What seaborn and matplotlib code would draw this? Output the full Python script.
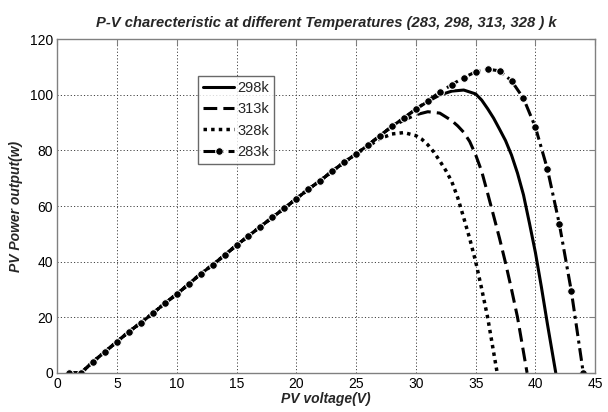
import matplotlib
matplotlib.use("Agg")
import matplotlib.pyplot as plt
import seaborn as sns
import pandas as pd

# ---- data ----
V283 = list(range(1, 45))
P283 = [0, 0, 4.0, 7.6, 11.2, 14.8, 18.0, 21.4, 25.0, 28.3, 31.9, 35.6, 38.8, 42.3,
        45.9, 49.2, 52.6, 55.9, 59.2, 62.6, 66.0, 69.1, 72.5, 75.7, 78.7, 81.9, 85.3,
        88.6, 91.7, 94.8, 97.9, 100.9, 103.6, 106.2, 108.2, 109.2, 108.6, 105.0, 98.7,
        88.3, 73.3, 53.5, 29.4, 0.0]

V298 = list(range(1, 31)) + [31, 32, 33, 34, 35, 35.5, 36, 36.5, 37, 37.5, 38, 38.5, 39, 39.5, 40, 40.5, 41, 41.7]
P298 = P283[:30] + [97.6, 99.9, 101.3, 101.7, 100.3, 98.1, 95.0, 91.6, 87.6, 83.5,
                    78.3, 71.8, 64.0, 53.8, 43.2, 30.8, 17.6, 0.0]

V313 = list(range(1, 29)) + [29, 30, 31, 32, 33, 33.5, 34, 34.5, 35, 35.5, 36, 36.5, 37, 37.5, 38, 38.5, 39, 39.3]
P313 = P283[:28] + [90.8, 92.8, 93.9, 93.4, 90.7, 88.8, 86.5, 83.2, 78.4, 72.5,
                    64.6, 56.5, 48.3, 39.5, 30.0, 20.0, 7.5, 0.0]

V328 = list(range(1, 26)) + [26, 27, 28, 29, 30, 30.5, 31, 31.5, 32, 32.5, 33, 33.5, 34, 34.5, 35, 35.5, 36, 36.8]
P328 = P283[:25] + [81.5, 84.2, 85.9, 86.4, 85.3, 84.0, 82.0, 79.4, 76.2, 72.8,
                    68.8, 63.0, 55.8, 48.3, 40.0, 30.3, 20.0, 0.0]

labels = ["298k", "313k", "328k", "283k"]
x_ticks = [0, 5, 10, 15, 20, 25, 30, 35, 40, 45]
y_ticks = [0, 20, 40, 60, 80, 100, 120]

title = "P-V charecteristic at different Temperatures (283, 298, 313, 328 ) k"
xlabel = "PV voltage(V)"
ylabel = "PV Power output(w)"

# ---- style ----
sns.set_style("white")
plt.rcParams['font.family'] = ['Liberation Sans', 'DejaVu Sans']

fig = plt.figure(figsize=(6.08, 4.12), dpi=100)
ax = fig.add_axes([0.094, 0.095, 0.885, 0.81])

series = [
    (V298, P298, labels[0], dict(linestyle='-', linewidth=2.2)),
    (V313, P313, labels[1], dict(linestyle=(0, (4.5, 2.0)), linewidth=2.2)),
    (V328, P328, labels[2], dict(linestyle=(0, (1.0, 1.2)), linewidth=2.5)),
    (V283, P283, labels[3], dict(linestyle=(0, (4.2, 1.5, 1.0, 1.5)), linewidth=2.2,
                                 marker='o', markersize=5.5)),
]

for V, P, lab, kw in series:
    df = pd.DataFrame({"V": V, "P": P})
    sns.lineplot(data=df, x="V", y="P", ax=ax, color="black", label=lab,
                 estimator=None, sort=False, **kw)

ax.set_xlim(0, 45)
ax.set_ylim(0, 120)
ax.set_xticks(x_ticks)
ax.set_yticks(y_ticks)
ax.tick_params(axis='both', direction='in', length=4, color='#808080',
               labelsize=10, labelcolor='black', top=True, right=True, pad=3)
for s in ax.spines.values():
    s.set_color('#808080')
    s.set_linewidth(1.0)

ax.grid(True, color='#444444', linestyle=(0, (1.2, 2.2)), linewidth=0.7)
ax.set_axisbelow(True)

ax.set_title(title, fontsize=10.6, fontweight='bold', fontstyle='italic', pad=9)
ax.set_xlabel(xlabel, fontsize=10, fontweight='bold', fontstyle='italic', labelpad=1)
ax.set_ylabel(ylabel, fontsize=10, fontweight='bold', fontstyle='italic', labelpad=5)

leg = ax.legend(loc='upper left', bbox_to_anchor=(0.262, 0.89), frameon=True,
                fancybox=False, fontsize=10.5, handlelength=2.1, handletextpad=0.25,
                borderpad=0.35, labelspacing=0.5, borderaxespad=0)
leg.get_frame().set_edgecolor('#444444')
leg.get_frame().set_linewidth(1.0)

fig.savefig("out.png", dpi=100)
